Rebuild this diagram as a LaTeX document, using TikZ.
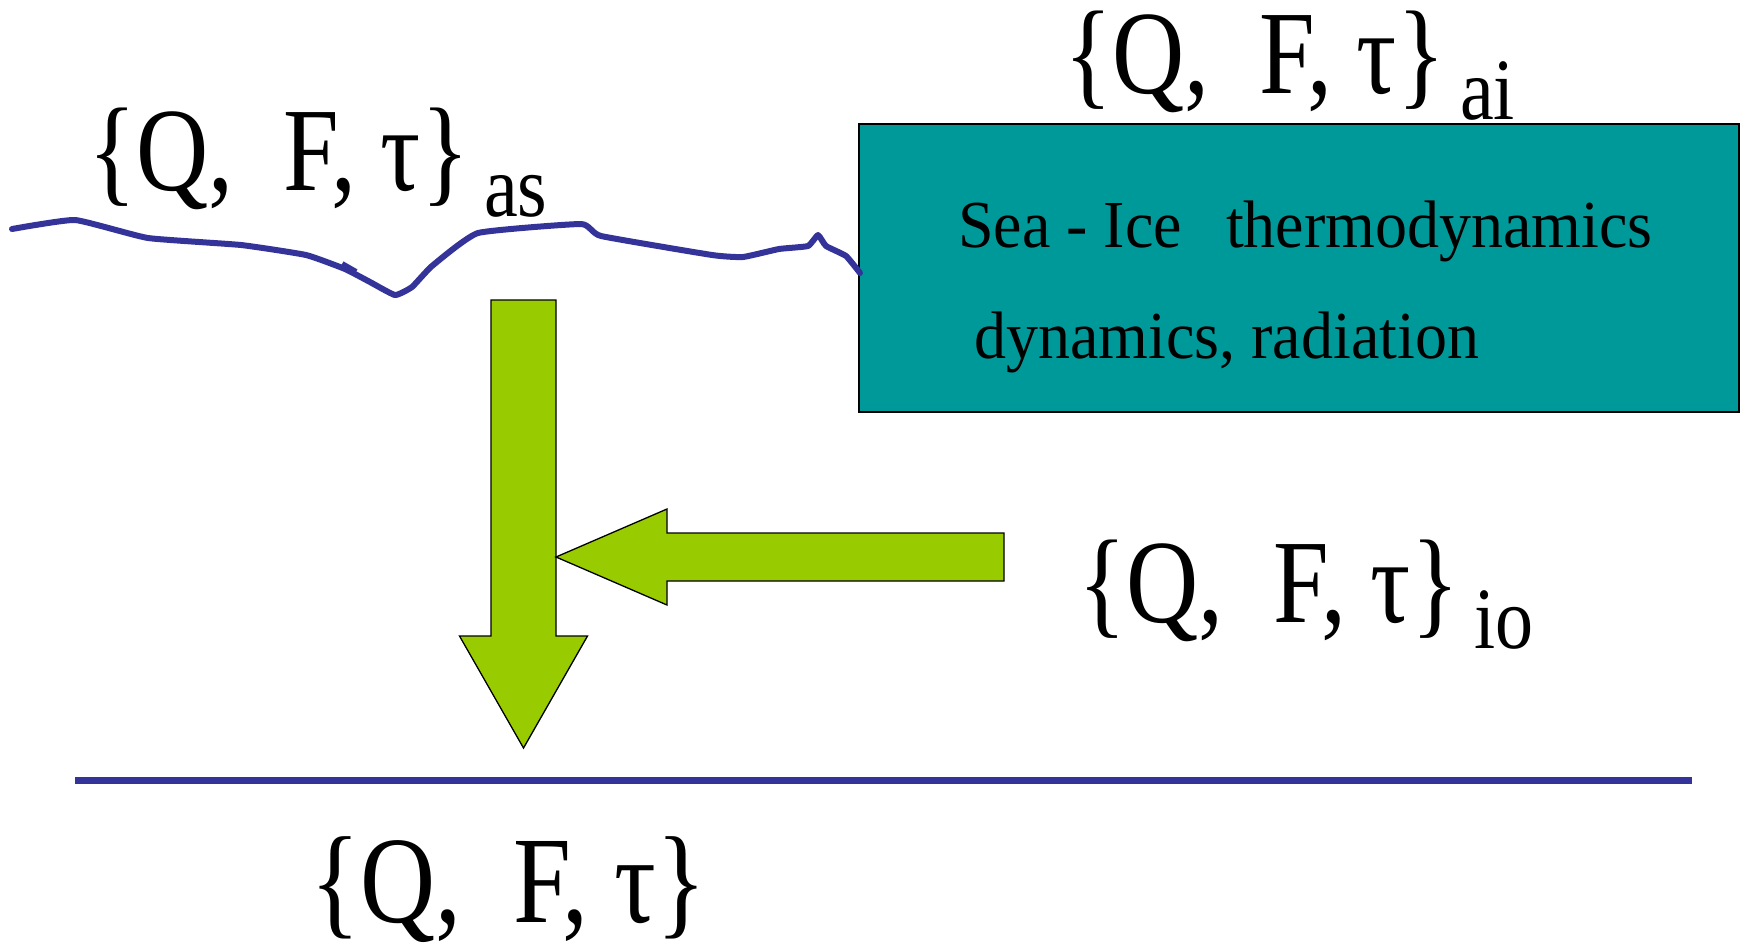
\documentclass[tikz,border=0pt]{standalone}
\usepackage{fontspec}
\setmainfont{Liberation Serif}
\usepackage{graphicx}
\usetikzlibrary{positioning,calc}
\definecolor{seablue}{RGB}{51,51,153}
\definecolor{iceteal}{RGB}{0,153,153}
\definecolor{fluxgreen}{RGB}{153,204,0}
% flux set {Q, F, tau} with an optional subscript
\newcommand{\qft}[1][100]{\scalebox{1}[1.19]{\fontsize{#1}{#1}\selectfont\{Q,\ \ F, τ\}}}
\newcommand{\qftsub}[1]{\qft\hspace{15pt}\raisebox{-26pt}{\scalebox{1}[1.15]{\fontsize{76}{76}\selectfont #1}}}
\tikzset{
  icebox/.style={draw=black, line width=1.5pt, fill=iceteal, minimum width=880pt,
    minimum height=288pt, inner sep=0pt},
  boxtxt/.style={anchor=base west, inner sep=0pt, font=\fontsize{64}{64}\selectfont},
  fluxlbl/.style={anchor=base west, inner sep=0pt},
  surface/.style={draw=seablue, line width=6pt, line join=round, line cap=round},
  fatarr/.style={draw=black, line width=1.3pt, fill=fluxgreen, line join=miter}
}
\begin{document}
\begin{tikzpicture}[x=1pt,y=-1pt]
  \path[fill=white] (0,0) rectangle (1745,951);
  % sea ice block
  \node[icebox] (ice) at (1299,268) {};
  \node[boxtxt] (thermo) at (958,247) {\scalebox{1}[1.05]{Sea - Ice\hspace{44pt}thermodynamics}};
  \node[boxtxt] (dyn) at (974,358) {\scalebox{1}[1.05]{dynamics, radiation}};
  % open water surface
  \draw[surface] plot[smooth,tension=0.25] coordinates {(12,229) (75,220) (148,238) (241,245)
    (306,255) (345,269) (370,282) (395,295) (412,287) (432,266) (478,233) (581,224)
    (601,236) (712,255) (743,257) (779,249) (808,246) (818,235) (826,246) (846,256) (860,273)};
  \draw[surface, line cap=butt] (342,264) -- (356,272);
  % ocean bottom line
  \coordinate (bl) at (75,780);
  \coordinate (br) at (1692,780);
  \draw[surface, line width=7pt, line cap=butt] (bl) -- (br);
  % flux labels
  \node[fluxlbl] (as) at (88,190) {\qftsub{as}};
  \node[fluxlbl] (ai) at (1064,93) {\qftsub{ai}};
  \node[fluxlbl] (io) at (1078,622) {\qftsub{io}};
  \node[fluxlbl] (oc) at (310,922) {\qft[104]};
  % arrows
  \coordinate (dtop) at (523.5,300);
  \coordinate (dtip) at (523.5,748);
  \coordinate (ltail) at (1004,557);
  \coordinate (ltip) at (556,557);
  \draw[fatarr] ($(dtop)+(-32.5,0)$) -- ($(dtop)+(32.5,0)$) -- ($(dtip)+(32.5,-112)$)
    -- ($(dtip)+(64,-112)$) -- (dtip) -- ($(dtip)+(-64,-112)$) -- ($(dtip)+(-32.5,-112)$) -- cycle;
  \draw[fatarr] (ltip) -- ($(ltip)+(111,-48)$) -- ($(ltip)+(111,-24)$) -- ($(ltail)+(0,-24)$)
    -- ($(ltail)+(0,24)$) -- ($(ltip)+(111,24)$) -- ($(ltip)+(111,48)$) -- cycle;
\end{tikzpicture}
\end{document}
